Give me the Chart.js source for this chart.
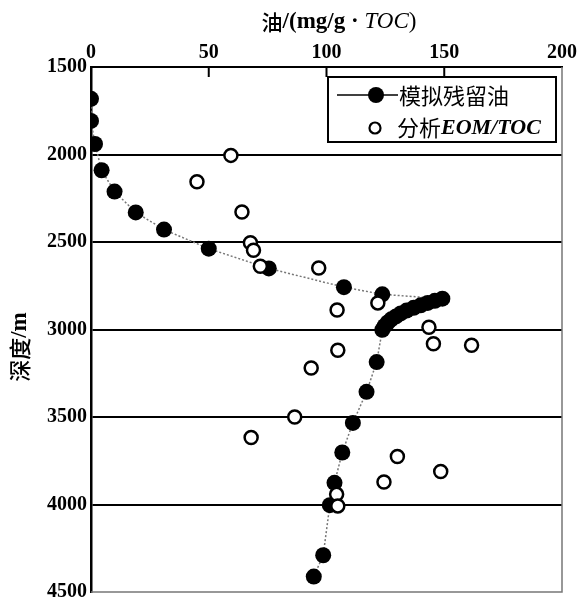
<!DOCTYPE html>
<html>
<head>
<meta charset="utf-8">
<script src="https://cdn.jsdelivr.net/npm/chart.js@4"></script>
<style>
  html, body { margin: 0; padding: 0; background: #fff; }
  #box { width: 581px; height: 608px; }
</style>
</head>
<body>
<div id="box"><canvas id="grafico"></canvas></div>
<script>
// 模拟残留油 (filled dots joined by dotted line)
var simOil = [0, 0, 1.7, 4.5, 10, 19, 31, 50, 75.5, 107.4, 123.7,
    149.2, 146, 143, 140, 137, 134, 131.5, 129.5, 127.5, 126, 124.7, 123.7,
    121.3, 117, 111.2, 106.7, 103.4, 101.4, 98.6, 94.6];
var simDepth = [1682, 1808, 1940, 2090, 2212, 2331, 2429, 2538, 2651, 2758, 2799,
    2824, 2836, 2848, 2862, 2876, 2892, 2908, 2925, 2942, 2960, 2980, 3002,
    3186, 3356, 3534, 3703, 3876, 4004, 4290, 4412];

// 分析EOM/TOC (open circles)
var anaOil = [59.4, 45, 64.1, 67.7, 69, 71.9, 96.7, 121.8, 104.5, 143.5, 145.4,
    161.6, 104.8, 93.5, 86.5, 68, 130.1, 148.5, 124.4, 104.3, 104.8];
var anaDepth = [2005, 2156, 2329, 2504, 2547, 2639, 2649, 2848, 2889, 2987, 3081,
    3090, 3119, 3220, 3500, 3617, 3726, 3811, 3871, 3942, 4008];

var xTicks = [0, 50, 100, 150, 200];
var yTicks = [1500, 2000, 2500, 3000, 3500, 4000, 4500];

var serif = "'Liberation Serif', 'DejaVu Serif', serif";
var cjk = "'Noto Sans CJK SC', sans-serif";

function pares(xs, ys) {
    var out = [];
    for (var i = 0; i < xs.length; i++) out.push({ x: xs[i], y: ys[i] });
    return out;
}

// draw mixed-font text pieces, returns width
function piezas(ctx, parts, x, y, measureOnly) {
    var w = 0;
    parts.forEach(function (p) {
        ctx.font = p[1];
        if (!measureOnly) ctx.fillText(p[0], x + w, y);
        w += ctx.measureText(p[0]).width;
    });
    return w;
}

var extras = {
    id: "extras",
    afterDraw: function (chart) {
        var ctx = chart.ctx, a = chart.chartArea;
        var xs = chart.scales.x;
        ctx.save();
        // right + bottom frame (grey)
        ctx.strokeStyle = "#777";
        ctx.lineWidth = 1.5;
        ctx.beginPath();
        ctx.moveTo(a.right, a.top);
        ctx.lineTo(a.right, a.bottom);
        ctx.lineTo(a.left, a.bottom);
        ctx.stroke();
        // inward ticks on top axis
        ctx.strokeStyle = "#000";
        ctx.lineWidth = 2;
        [50, 100, 150].forEach(function (v) {
            var px = xs.getPixelForValue(v);
            ctx.beginPath();
            ctx.moveTo(px, a.top);
            ctx.lineTo(px, a.top + 10);
            ctx.stroke();
        });

        // x axis title
        ctx.fillStyle = "#000";
        ctx.textBaseline = "middle";
        var tparts = [["油", "500 21px " + cjk], ["/(mg/g · ", "bold 23px " + serif],
            ["TOC", "italic 23px " + serif], [")", "23px " + serif]];
        var tw = piezas(ctx, tparts, 0, 0, true);
        piezas(ctx, tparts, 339 - tw / 2, 22, false);

        // y axis title (rotated)
        ctx.save();
        ctx.translate(20, 347);
        ctx.rotate(-Math.PI / 2);
        var yparts = [["深度", "500 22px " + cjk], ["/m", "bold 23px " + serif]];
        var yw = piezas(ctx, yparts, 0, 0, true);
        piezas(ctx, yparts, -yw / 2, 0, false);
        ctx.restore();

        // legend box
        var lx = 328, ly = 77, lw = 228, lh = 65;
        ctx.fillStyle = "#fff";
        ctx.fillRect(lx, ly, lw, lh);
        ctx.strokeStyle = "#000";
        ctx.lineWidth = 2;
        ctx.strokeRect(lx, ly, lw, lh);

        var ds = chart.data.datasets;
        // item 1: line + filled dot
        ctx.lineWidth = 1.5;
        ctx.beginPath();
        ctx.moveTo(337, 95);
        ctx.lineTo(398, 95);
        ctx.stroke();
        ctx.fillStyle = "#000";
        ctx.beginPath();
        ctx.arc(376, 95, 8, 0, Math.PI * 2);
        ctx.fill();
        piezas(ctx, [[ds[1].label, "22px " + cjk]], 399, 96, false);
        // item 2: open circle
        ctx.lineWidth = 2.2;
        ctx.beginPath();
        ctx.arc(375, 128, 5.5, 0, Math.PI * 2);
        ctx.stroke();
        piezas(ctx, [["分析", "22px " + cjk], ["EOM/TOC", "italic bold 22px " + serif]], 397, 128, false);
        ctx.restore();
    }
};

var ctx = document.getElementById("grafico").getContext("2d");
var chart = new Chart(ctx, {
    type: "scatter",
    data: {
        datasets: [
            {
                label: "分析EOM/TOC",
                data: pares(anaOil, anaDepth),
                pointRadius: 6.5,
                pointBackgroundColor: "#fff",
                pointBorderColor: "#000",
                pointBorderWidth: 2.5,
                showLine: false,
                order: 0
            },
            {
                label: "模拟残留油",
                data: pares(simOil, simDepth),
                pointRadius: 8,
                pointBackgroundColor: "#000",
                pointBorderColor: "#000",
                pointBorderWidth: 0,
                showLine: true,
                borderColor: "#777",
                borderWidth: 1.5,
                borderDash: [2, 2],
                order: 1
            }
        ]
    },
    options: {
        responsive: true,
        maintainAspectRatio: false,
        animation: false,
        events: [],
        layout: { padding: { top: 0, left: 0, right: 19, bottom: 9 } },
        plugins: { legend: { display: false }, tooltip: { enabled: false } },
        scales: {
            x: {
                type: "linear",
                position: "top",
                min: 0, max: 200,
                afterBuildTicks: function (s) { s.ticks = xTicks.map(function (v) { return { value: v }; }); },
                afterFit: function (s) { s.height = 67; },
                ticks: {
                    color: "#000", padding: 2,
                    font: { family: serif, size: 20, weight: "bold" },
                    callback: function (v) { return String(v); }
                },
                grid: { drawOnChartArea: false, drawTicks: false },
                border: { display: true, color: "#000", width: 2 }
            },
            y: {
                type: "linear",
                reverse: true,
                min: 1500, max: 4500,
                afterBuildTicks: function (s) { s.ticks = yTicks.map(function (v) { return { value: v }; }); },
                afterFit: function (s) { s.width = 91; },
                ticks: {
                    color: "#000", padding: 4,
                    font: { family: serif, size: 20, weight: "bold" },
                    callback: function (v) { return String(v); }
                },
                grid: {
                    drawTicks: false,
                    lineWidth: 2,
                    color: function (c) {
                        var v = c.tick && c.tick.value;
                        return (v === 1500 || v === 4500) ? "rgba(0,0,0,0)" : "#000";
                    }
                },
                border: { display: true, color: "#000", width: 2.5 }
            }
        }
    },
    plugins: [extras]
});
</script>
</body>
</html>
